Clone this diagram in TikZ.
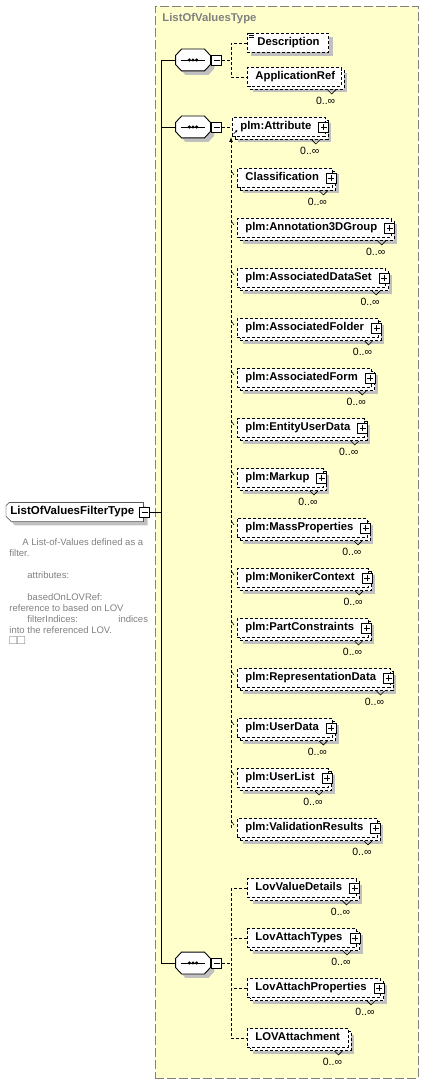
\documentclass[tikz,border=0pt]{standalone}
\usepackage{fontspec}
\setmainfont{Liberation Sans}
\usetikzlibrary{arrows.meta,calc,positioning,shadows,backgrounds}
\definecolor{lovyellow}{RGB}{255,255,204}
\definecolor{lovgray}{RGB}{128,128,128}
\definecolor{lovshade}{RGB}{192,192,192}

\begin{document}
\begin{tikzpicture}[x=1pt,y=-1pt,line width=0.9pt,
  typebox/.style={draw=lovgray,dash pattern=on 9pt off 3pt,fill=lovyellow,anchor=north west,inner sep=0pt},
  conn/.style={dash pattern=on 3pt off 2pt},
  shade/.style={drop shadow={draw=none,fill=lovshade,opacity=1,shadow xshift=#1,shadow yshift=-#1}},
  elem/.style={draw,conn,fill=white,anchor=west,inner sep=0pt,minimum height=19pt,
    text height=8pt,text depth=2.5pt,font=\fontsize{11.3}{13}\selectfont\bfseries,
    execute at begin node=\hspace*{8pt},execute at end node=\hspace*{#1}},
  elem/.default=7pt,
  single/.style={elem=#1,shade=4pt},single/.default=9pt,
  multi/.style={elem=#1,shade=6pt,
    copy shadow={draw,conn,fill=white,shadow xshift=3pt,shadow yshift=-3pt}},
  multi/.default=6pt,
  root/.style={anchor=west,inner sep=0pt,minimum height=18pt,text height=8pt,text depth=2.5pt,
    font=\fontsize{11.5}{13}\selectfont\bfseries,
    execute at begin node=\hspace*{4pt},execute at end node=\hspace*{9pt}},
  seq/.style={inner sep=0pt,minimum width=34pt,minimum height=21pt},
  minus/.style={draw,solid,fill=white,minimum size=10pt,inner sep=0pt,
    path picture={\draw ([xshift=2pt]path picture bounding box.west) -- ([xshift=-2pt]path picture bounding box.east);}},
  plus/.style={draw,solid,fill=white,minimum size=10pt,inner sep=0pt,
    path picture={\draw ([xshift=2pt]path picture bounding box.west) -- ([xshift=-2pt]path picture bounding box.east)
      ([yshift=2pt]path picture bounding box.south) -- ([yshift=-2pt]path picture bounding box.north);}},
  mult/.style={anchor=base east,inner sep=0pt,font=\fontsize{10.5}{12}\selectfont},
  note/.style={anchor=north west,align=left,inner sep=0pt,text=lovgray,font=\fontsize{9.5}{11}\selectfont}]

  \useasboundingbox (0,0) rectangle (424,1083);

  % complex type frame
  \node[typebox,minimum width=263pt,minimum height=1072pt] (lov) at (155,6) {};
  \node[anchor=west,inner sep=0pt,text=lovgray,font=\fontsize{11.3}{13}\selectfont\bfseries] (lovttl) at (162,19) {ListOfValuesType};
  \coordinate (spine) at (161,0);
  \coordinate (trunk) at (231,0);

  % root element and its documentation
  \node[root] (lovf) at (6,512) {ListOfValuesFilterType};
  \begin{scope}[on background layer]
    \draw[fill=white,shade=4pt] ($(lovf.north west)+(3,0)$) -- (lovf.north east) -- (lovf.south east)
      -- ($(lovf.south west)+(5,0)$) -- ($(lovf.south west)+(0,-5)$) -- ($(lovf.north west)+(0,3)$) -- cycle;
  \end{scope}
  \node[minus] (lovf-m) at ([xshift=1pt]lovf.east) {};
  \node[note] (lovfdoc) at (9,538) {\hspace*{13pt}A List-of-Values defined as a\\
    filter.\\[11pt]
    \hspace*{18pt}attributes:\\[11pt]
    \hspace*{18pt}basedOnLOVRef:\\
    reference to based on LOV\\
    \hspace*{18pt}\makebox[91pt][l]{filterIndices:}indices\\
    into the referenced LOV.\\
    {\fontsize{13}{11}\selectfont □□}};

  % sequences
  \foreach \s/\yy in {seqa/60,seqb/127,seqc/963}{
    \node[seq] (\s) at (193,\yy) {};
    \draw[fill=white,shade=4pt] ($(\s.west)+(0,-4.5)$) -- ($(\s.north west)+(6,0)$) -- ($(\s.north east)+(-6,0)$)
      -- ($(\s.east)+(0,-4.5)$) -- ($(\s.east)+(0,4.5)$) -- ($(\s.south east)+(-6,0)$)
      -- ($(\s.south west)+(6,0)$) -- ($(\s.west)+(0,4.5)$) -- cycle;
    \node[minus,right=1pt of \s] (\s-m) {};
    \draw[line width=0.8pt] ([xshift=5pt]\s.west) -- ([xshift=-5pt]\s.east);
    \foreach \d in {-3.6,0,3.6} \fill (\s.center) ++(\d,0) circle[radius=1.7];
    \draw (\s.west) -- (\s.west -| spine);
  }
  \draw (seqa.west -| spine) -- (seqc.west -| spine);
  \draw (lovf-m.east) -- (lovf-m.east -| spine);

  % first sequence
  \node[single] (desc) at (247,43) {\hspace*{2pt}Description};
  \node[multi] (appref) at (247,77) {ApplicationRef};
  \foreach \k in {0,2,4} \draw[line width=0.6pt] ($(desc.north west)+(2,\k)$) -- ++(5,0);
  \draw[conn] (seqa-m.east) -- (seqa-m.east -| trunk);
  \draw[conn] (desc.west) -| (trunk |- appref.west) -- (appref.west);

  % second sequence: plm:Attribute and its substitutes
  \node[multi=14pt] (attr) at (232,127) {plm:Attribute};
  \draw[line width=0.6pt,-{Latex[length=2.5pt,width=2.5pt]}] ($(attr.south west)+(1.5,-3)$) -- ++(4,-4);
  \foreach \e/\yy/\txt in {cls/178/Classification, ann/228/plm:Annotation3DGroup,
      ads/278/plm:AssociatedDataSet, afo/328/plm:AssociatedFolder, afm/378/plm:AssociatedForm,
      eud/428/plm:EntityUserData, mrk/478/plm:Markup, mas/528/plm:MassProperties,
      mon/578/plm:MonikerContext, pcn/628/plm:PartConstraints, rep/678/plm:RepresentationData,
      usd/728/plm:UserData, usl/778/plm:UserList, val/828/plm:ValidationResults}{
    \node[multi=14pt] (\e) at (237,\yy) {\txt};
    \draw[line width=0.6pt] ($(\e.north west)+(-5,4)$) -- ++(2,3);
  }
  \draw[conn] (seqb-m.east) -- (attr.west);
  \draw[conn,-{Latex[length=5pt,width=4pt]}] (trunk |- val.west) -- (trunk |- attr.south);

  % third sequence
  \foreach \e/\yy/\txt in {lvd/888/LovValueDetails, lat/938/LovAttachTypes, lap/988/LovAttachProperties}{
    \node[multi=14pt] (\e) at (247,\yy) {\txt};
    \draw[conn] (\e.west) -- (\e.west -| trunk);
  }
  \node[multi=8pt] (latt) at (247,1038) {LOVAttachment};
  \draw[conn] (seqc-m.east) -- (seqc-m.east -| trunk);
  \draw[conn] (lvd.west -| trunk) -- (latt.west -| trunk) -- (latt.west);

  % expand boxes
  \foreach \e in {attr,cls,ann,ads,afo,afm,eud,mrk,mas,mon,pcn,rep,usd,usl,val,lvd,lat,lap}
    \node[plus] (\e-p) at ([xshift=-2pt]\e.east) {};

  % occurrences
  \foreach \e in {appref,attr,cls,ann,ads,afo,afm,eud,mrk,mas,mon,pcn,rep,usd,usl,val,lvd,lat,lap,latt}{
    \node[mult] (\e-n) at ([xshift=-6pt,yshift=-17.5pt]\e.south east) {0..∞};
    \draw[line width=0.6pt] ([xshift=-14pt,yshift=-3pt]\e.south east) -- ++(4,4) -- ++(4,-4);
  }
\end{tikzpicture}
\end{document}
